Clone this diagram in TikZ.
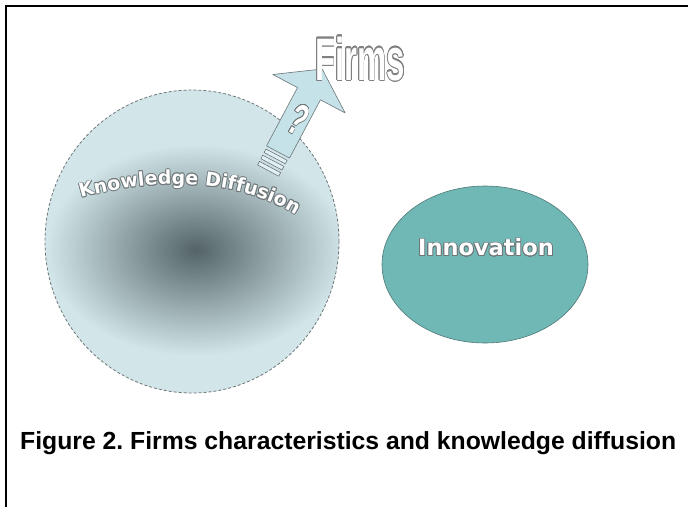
\documentclass[tikz,border=0pt]{standalone}
\usepackage{fontspec}
\setmainfont{Liberation Sans}
\newfontfamily\djv{DejaVu Sans}
\usepackage[copies]{contour}
\usetikzlibrary{decorations.text}
\definecolor{circfill}{RGB}{210,230,234}
\definecolor{circdark}{RGB}{84,100,102}
\definecolor{innofill}{RGB}{111,184,181}
\definecolor{innoline}{RGB}{80,120,118}
\definecolor{arrowfill}{RGB}{196,226,232}
\definecolor{stripefill}{RGB}{225,240,243}
\definecolor{outl}{RGB}{110,118,120}
\contourlength{0.8pt}
\contournumber{16}
\newcommand\kdfont{\djv\bfseries\fontsize{19}{22}\selectfont}
\tikzset{
  arrowpart/.style={draw=outl, line width=0.6pt, line join=round},
  outlinetext/.style={text=white, inner sep=0pt},
}
\begin{document}
\frenchspacing
\begin{tikzpicture}[x=1pt,y=-1pt]
\useasboundingbox (0,0) rectangle (688,506);
\fill[white] (0,0) rectangle (688,506);
\draw[line width=1.7pt, line join=miter] (6,512) -- (6,6) -- (694,6);

% knowledge circle
\fill[circfill] (192,241.5) ellipse [x radius=147pt, y radius=151.5pt];
\begin{scope}
  \clip (192,241.5) ellipse [x radius=147pt, y radius=151.5pt];
  \shade[inner color=circdark, outer color=circfill] (196,250) ellipse [x radius=150pt, y radius=106pt];
\end{scope}
\draw[outl, dash pattern=on 3pt off 2pt, line width=0.8pt] (192,241.5) ellipse [x radius=147pt, y radius=151.5pt];
\coordinate (kcenter) at (192,241.5);

% curved label
\foreach \ang in {0,45,...,315} {
  \path[shift={(\ang:0.9)}, decorate, decoration={text along path, text color=outl, text={|\kdfont|Knowledge Diffusion}}]
    (81,198) .. controls (150,178) and (240,176) .. (304,220);
}
\path[decorate, decoration={text along path, text color=white, text={|\kdfont|Knowledge Diffusion}}]
    (81,198) .. controls (150,178) and (240,176) .. (304,220);

% innovation
\draw[innoline, fill=innofill, line width=0.6pt] (485,264.5) ellipse [x radius=103pt, y radius=78.5pt];
\node[outlinetext, font=\djv\bfseries\fontsize{22.5}{26}\selectfont] (inno) at (486,248) {\contour{outl}{Innovation}};

% arrow
\begin{scope}[shift={(278,152)}, rotate=-28]
  \filldraw[arrowpart, fill=arrowfill] (-13,0) -- (-13,-66) -- (-41,-66) -- (0,-94) -- (41,-66) -- (13,-66) -- (13,0) -- cycle;
  \filldraw[arrowpart, fill=stripefill] (-12,3) rectangle (12,7);
  \filldraw[arrowpart, fill=stripefill] (-12,10) rectangle (12,14);
  \filldraw[arrowpart, fill=stripefill] (-12,17) rectangle (12,21);
  \node[outlinetext, transform shape, xscale=0.6, font=\bfseries\fontsize{44}{44}\selectfont] (qm) at (3,-38) {\contour{outl}{?}};
\end{scope}

% Firms
\node[outlinetext, anchor=base west, xscale=0.55, font=\bfseries\fontsize{60}{60}\selectfont] (firms) at (315,80) {\contourlength{1.2pt}\contour{gray}{Firms}};

% caption
\node[anchor=base west, inner sep=0pt, font=\bfseries\fontsize{24.75}{30}\selectfont] (caption) at (20,449.5) {Figure 2. Firms characteristics and knowledge diffusion};
\end{tikzpicture}
\end{document}
